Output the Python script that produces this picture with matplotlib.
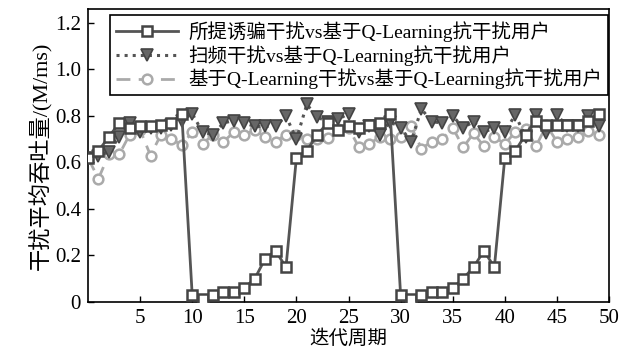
import matplotlib
matplotlib.use('Agg')
import matplotlib.pyplot as plt
import numpy as np

# 迭代周期 0..49
cycles = np.arange(50)

# 所提诱骗干扰 vs 基于Q-Learning抗干扰用户
decoy = [0.62, 0.65, 0.71, 0.77, 0.75, 0.755, 0.755, 0.76, 0.77, 0.81,
         0.03, 0.013, 0.03, 0.043, 0.043, 0.06, 0.10, 0.186, 0.22, 0.15,
         0.62, 0.65, 0.72, 0.77, 0.74, 0.755, 0.75, 0.76, 0.77, 0.81,
         0.03, 0.013, 0.03, 0.043, 0.043, 0.06, 0.10, 0.15, 0.22, 0.15,
         0.62, 0.65, 0.72, 0.78, 0.76, 0.76, 0.76, 0.76, 0.78, 0.81]

# 扫频干扰 vs 基于Q-Learning抗干扰用户
sweep = [0.62, 0.63, 0.645, 0.71, 0.77, 0.73, 0.75, 0.75, 0.76, 0.78,
         0.81, 0.73, 0.72, 0.77, 0.78, 0.77, 0.755, 0.755, 0.755, 0.80,
         0.70, 0.85, 0.795, 0.775, 0.785, 0.81, 0.73, 0.755, 0.72, 0.775,
         0.75, 0.69, 0.83, 0.775, 0.77, 0.80, 0.75, 0.775, 0.73, 0.75,
         0.73, 0.805, 0.71, 0.805, 0.725, 0.805, 0.755, 0.755, 0.80, 0.755]

# 基于Q-Learning干扰 vs 基于Q-Learning抗干扰用户
qjam = [0.62, 0.53, 0.635, 0.635, 0.72, 0.74, 0.63, 0.72, 0.70, 0.675,
        0.73, 0.68, 0.72, 0.69, 0.73, 0.72, 0.74, 0.71, 0.69, 0.72,
        0.72, 0.70, 0.70, 0.705, 0.745, 0.75, 0.665, 0.68, 0.71, 0.70,
        0.71, 0.755, 0.66, 0.69, 0.70, 0.75, 0.665, 0.725, 0.67, 0.71,
        0.68, 0.73, 0.745, 0.67, 0.76, 0.69, 0.70, 0.71, 0.735, 0.72]

labels = ['所提诱骗干扰vs基于Q-Learning抗干扰用户',
          '扫频干扰vs基于Q-Learning抗干扰用户',
          '基于Q-Learning干扰vs基于Q-Learning抗干扰用户']

xticks = [5, 10, 15, 20, 25, 30, 35, 40, 45, 50]
yticks = [0, 0.2, 0.4, 0.6, 0.8, 1.0, 1.2]
ytick_labels = ['0', '0.2', '0.4', '0.6', '0.8', '1.0', '1.2']

fonts = ['Liberation Serif', 'Noto Sans CJK SC']
plt.rcParams['font.family'] = fonts

fig = plt.figure(figsize=(6.34, 3.51), dpi=100)
ax = fig.add_axes([88 / 634, 1 - 302 / 351, (609 - 88) / 634, (302 - 9) / 351])

ax.plot(cycles, qjam, color='#aaaaaa', linestyle=(0, (5, 3)), linewidth=2,
        marker='o', markersize=7, markerfacecolor='white',
        markeredgecolor='#aaaaaa', markeredgewidth=1.8, label=labels[2], zorder=2)
ax.plot(cycles, sweep, color='#555555', linestyle=':', linewidth=2.2,
        marker='v', markersize=8, markerfacecolor='#666666',
        markeredgecolor='#444444', markeredgewidth=1.2, label=labels[1], zorder=3)
ax.plot(cycles, decoy, color='#555555', linestyle='-', linewidth=2,
        marker='s', markersize=7, markerfacecolor='white',
        markeredgecolor='#444444', markeredgewidth=1.8, label=labels[0], zorder=4)

ax.set_xlim(0, 50)
ax.set_ylim(0, 1.26)
ax.set_xticks(xticks)
ax.set_yticks(yticks)
ax.set_yticklabels(ytick_labels)
ax.tick_params(direction='in', length=4, width=1, labelsize=15, pad=5)
for s in ax.spines.values():
    s.set_linewidth(1.2)

ax.set_xlabel('迭代周期', fontsize=14, labelpad=1)
ax.set_ylabel('干扰平均吞吐量/(M/ms)', fontsize=16, labelpad=2)

h, l = ax.get_legend_handles_labels()
leg = ax.legend(h[::-1], l[::-1], loc='upper right', bbox_to_anchor=(0.998, 0.978),
                fontsize=14, frameon=True, fancybox=False, edgecolor='black',
                framealpha=1, handlelength=3.2, borderpad=0.3, labelspacing=0.15,
                handletextpad=0.5, borderaxespad=0)
leg.get_frame().set_linewidth(1.2)

fig.savefig('out.png', dpi=100)
